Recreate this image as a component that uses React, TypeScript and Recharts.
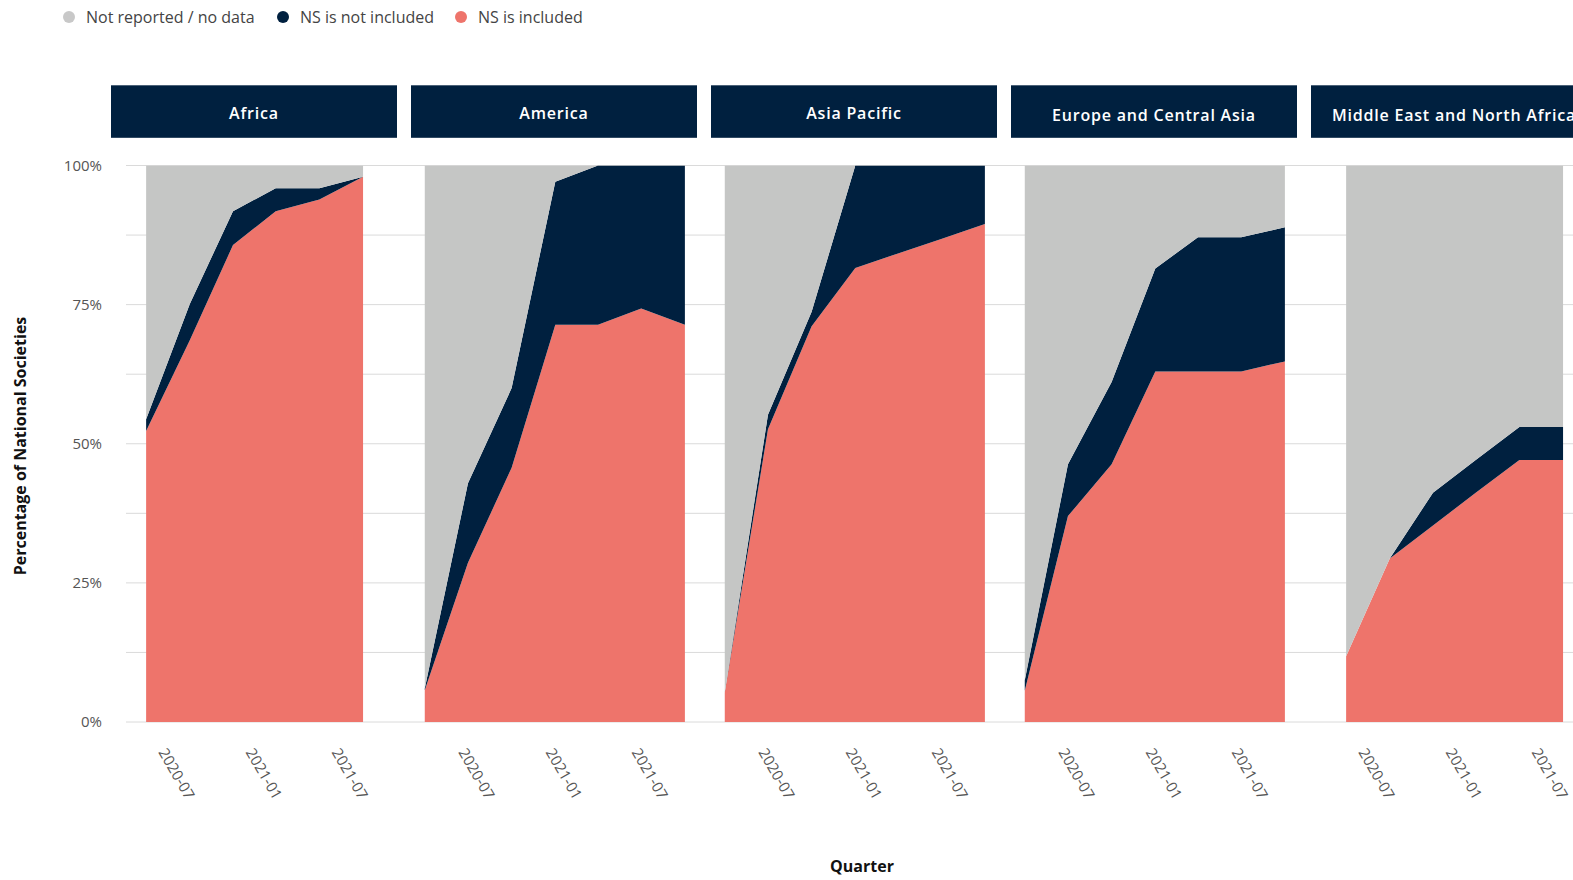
import React from 'react';
import { AreaChart, Area, XAxis, YAxis, CartesianGrid } from 'recharts';

// quarterly reporting dates (two reporting calendars)
const aprilDates = ['2020-04-22', '2020-07-22', '2020-10-22', '2021-01-22', '2021-04-22', '2021-07-22', '2021-10-22'];
const juneDates = ['2020-06-06', '2020-09-06', '2020-12-06', '2021-03-06', '2021-06-06', '2021-09-06'];

const tickLabels = ['2020-07', '2021-01', '2021-07'];
const axisStart = '2020-03-24';
const axisEnd = '2021-12-16';

const regions = ['Africa', 'America', 'Asia Pacific', 'Europe and Central Asia', 'Middle East and North Africa'];

// % of National Societies per quarter
const africaIncluded = [52.3, 68.6, 85.7, 91.8, 93.9, 98.0];
const africaNotIncluded = [2.1, 6.5, 6.1, 4.1, 2.0, 0];
const africaNotReported = [45.6, 24.9, 8.2, 4.1, 4.1, 2.0];

const americaIncluded = [5.7, 28.6, 45.7, 71.4, 71.4, 74.3, 71.4];
const americaNotIncluded = [0.3, 14.3, 14.3, 25.7, 28.6, 25.7, 28.6];
const americaNotReported = [94.0, 57.1, 40.0, 2.9, 0, 0, 0];

const asiaIncluded = [5.3, 52.6, 71.1, 81.6, 84.2, 86.8, 89.5];
const asiaNotIncluded = [0, 2.6, 2.6, 18.4, 15.8, 13.2, 10.5];
const asiaNotReported = [94.7, 44.8, 26.3, 0, 0, 0, 0];

const europeIncluded = [5.6, 37.0, 46.3, 63.0, 63.0, 63.0, 64.8];
const europeNotIncluded = [1.9, 9.3, 14.8, 18.5, 24.1, 24.1, 24.1];
const europeNotReported = [92.5, 53.7, 38.9, 18.5, 12.9, 12.9, 11.1];

const menaIncluded = [11.8, 29.4, 35.3, 41.2, 47.1, 47.1];
const menaNotIncluded = [0, 0, 5.9, 5.9, 5.9, 5.9];
const menaNotReported = [88.2, 70.6, 58.8, 52.9, 47.0, 47.0];

const yTicks = [0, 12.5, 25, 37.5, 50, 62.5, 75, 87.5, 100];

const RED = '#EE746B';
const NAVY = '#00203F';
const GREY = '#C5C6C5';
const FONT = '"Open Sans", sans-serif';

const buildRows = (dates: string[], inc: number[], notInc: number[], notRep: number[]) =>
  dates.map((d, i) => ({
    t: Date.parse(d),
    included: inc[i],
    notIncluded: notInc[i],
    notReported: notRep[i],
  }));

const panels = [
  buildRows(juneDates, africaIncluded, africaNotIncluded, africaNotReported),
  buildRows(aprilDates, americaIncluded, americaNotIncluded, americaNotReported),
  buildRows(aprilDates, asiaIncluded, asiaNotIncluded, asiaNotReported),
  buildRows(aprilDates, europeIncluded, europeNotIncluded, europeNotReported),
  buildRows(juneDates, menaIncluded, menaNotIncluded, menaNotReported),
];

// header text baselines (longer labels sit a little lower)
const headerBaseline = [119, 119, 119, 121, 121];

const PANEL_LEFT = 111;
const PANEL_STEP = 300;
const CHART_TOP = 155;
const CHART_H = 697;

const xTicks = tickLabels.map((l) => Date.parse(l + '-01'));
const fmtMonth = (v: number) => {
  const d = new Date(v);
  return `${d.getUTCFullYear()}-${String(d.getUTCMonth() + 1).padStart(2, '0')}`;
};

const QuarterTick = (props: any) => {
  const { x, y, payload } = props;
  const ty = y + 30;
  return (
    <text x={x} y={ty} transform={`rotate(60, ${x}, ${ty})`} textAnchor="start" fontSize={15} fill="#555" fontFamily={FONT}>
      {fmtMonth(payload.value)}
    </text>
  );
};

const legendItems = [
  { label: 'Not reported / no data', color: '#C8C8C8', x: 69 },
  { label: 'NS is not included', color: NAVY, x: 283 },
  { label: 'NS is included', color: RED, x: 461 },
];

export default function App() {
  return (
    <div style={{ position: 'absolute', left: 0, top: 0, width: 1573, height: 880, overflow: 'hidden', background: '#fff' }}>
      {/* grid + y axis behind all panels (no series drawn here) */}
      <div style={{ position: 'absolute', left: 0, top: CHART_TOP }}>
        <AreaChart width={1573} height={CHART_H} data={panels[0]} margin={{ top: 10.5, right: 0, bottom: 130, left: 0 }}>
          <CartesianGrid vertical={false} stroke="#DADADA" strokeWidth={1} />
          <XAxis dataKey="t" type="number" domain={[Date.parse(axisStart), Date.parse(axisEnd)]} allowDataOverflow hide />
          <YAxis
            type="number"
            domain={[0, 100]}
            allowDataOverflow
            ticks={yTicks}
            interval={0}
            width={126}
            axisLine={false}
            tickLine={false}
            tickSize={0}
            tickMargin={24}
            tickFormatter={(v: number) => (v % 25 === 0 ? `${v}%` : '')}
            tick={{ fontSize: 15, fill: '#555', fontFamily: FONT }}
          />
        </AreaChart>
      </div>

      {panels.map((rows, i) => (
        <div key={regions[i]} style={{ position: 'absolute', left: PANEL_LEFT + PANEL_STEP * i, top: CHART_TOP }}>
          <AreaChart width={PANEL_STEP} height={CHART_H} data={rows} margin={{ top: 10.5, right: 0, bottom: 0, left: 0 }}>
            <XAxis
              dataKey="t"
              type="number"
              scale="linear"
              domain={[Date.parse(axisStart), Date.parse(axisEnd)]}
              allowDataOverflow
              ticks={xTicks}
              interval={0}
              height={130}
              axisLine={false}
              tickLine={false}
              tickSize={0}
              tickMargin={0}
              tick={<QuarterTick />}
            />
            <YAxis type="number" domain={[0, 100]} allowDataOverflow hide />
            <Area type="linear" dataKey="included" stackId="s" fill={RED} fillOpacity={1} stroke="none" isAnimationActive={false} />
            <Area type="linear" dataKey="notIncluded" stackId="s" fill={NAVY} fillOpacity={1} stroke="none" isAnimationActive={false} />
            <Area type="linear" dataKey="notReported" stackId="s" fill={GREY} fillOpacity={1} stroke="none" isAnimationActive={false} />
          </AreaChart>
        </div>
      ))}

      <svg width={1573} height={880} style={{ position: 'absolute', left: 0, top: 0, pointerEvents: 'none' }}>
        {legendItems.map((it) => (
          <g key={it.label}>
            <circle cx={it.x} cy={17} r={6} fill={it.color} />
            <text x={it.x + 17} y={22.5} fontSize={16} fill="#444" fontFamily={FONT}>
              {it.label}
            </text>
          </g>
        ))}
        {regions.map((r, i) => {
          const left = PANEL_LEFT + PANEL_STEP * i;
          return (
            <g key={r}>
              <rect x={left} y={85.3} width={286} height={52.5} fill={NAVY} />
              <text
                x={left + 143}
                y={headerBaseline[i]}
                textAnchor="middle"
                fontSize={16}
                fontWeight={600}
                letterSpacing={0.8}
                fill="#fff"
                fontFamily={FONT}
              >
                {r}
              </text>
            </g>
          );
        })}
        <text
          x={20}
          y={446}
          transform="rotate(-90, 20, 446)"
          textAnchor="middle"
          dominantBaseline="central"
          fontSize={16}
          fontWeight={700}
          fill="#111"
          fontFamily={FONT}
        >
          Percentage of National Societies
        </text>
        <text x={862} y={872} textAnchor="middle" fontSize={16} fontWeight={700} fill="#111" fontFamily={FONT}>
          Quarter
        </text>
      </svg>
    </div>
  );
}
